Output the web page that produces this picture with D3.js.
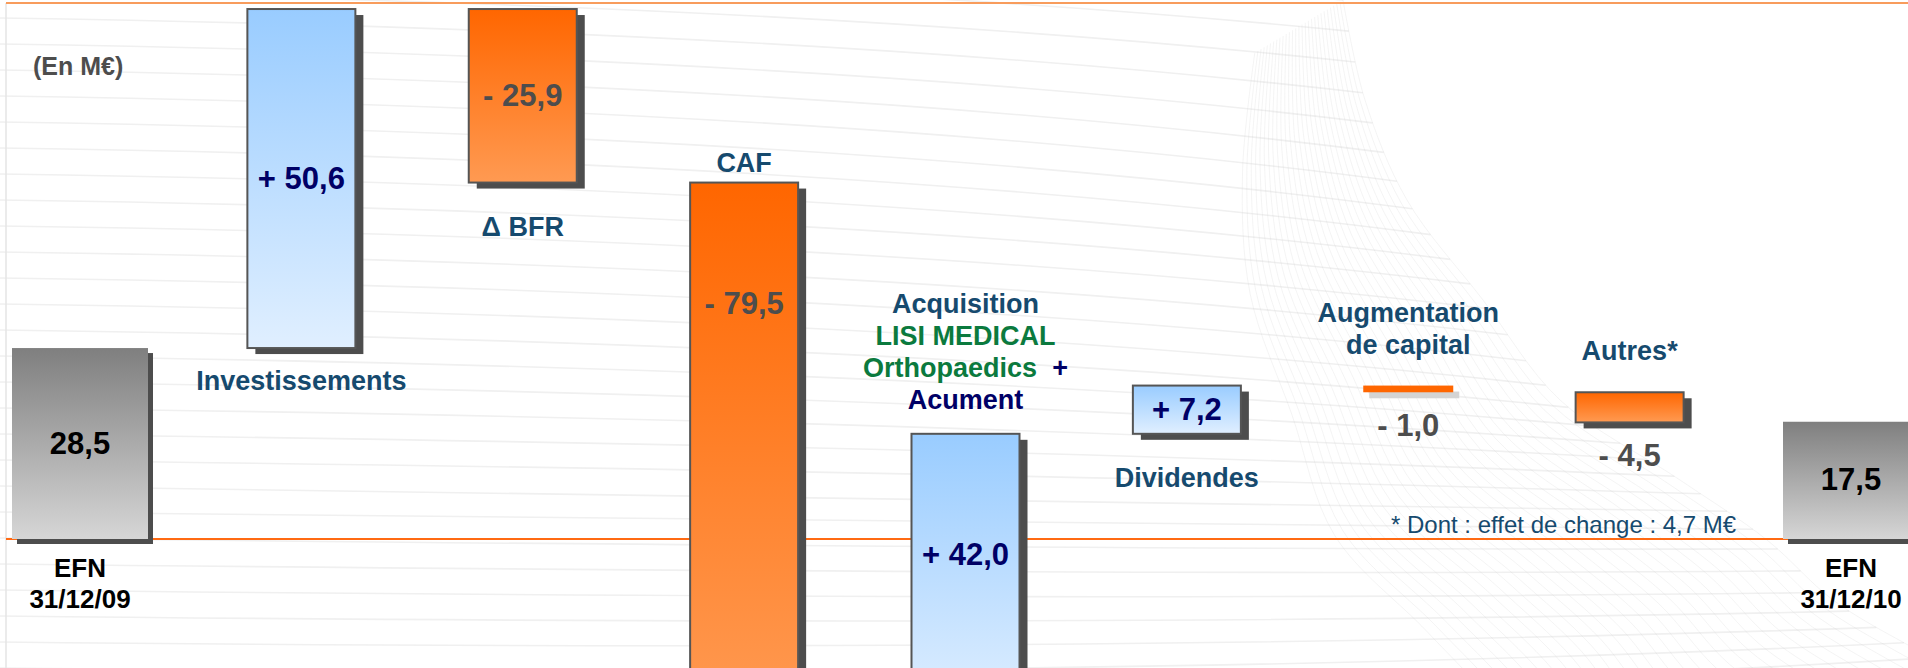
<!DOCTYPE html>
<html>
<head>
<meta charset="utf-8">
<script src="https://cdn.jsdelivr.net/npm/d3@7"></script>
<style>
  html, body { margin: 0; padding: 0; background: #fff; overflow: hidden; }
  svg { display: block; font-family: "Liberation Sans", Arial, sans-serif; }
  text { white-space: pre; }
</style>
</head>
<body>
<script>
// EFN bridge 2009 -> 2010, in M€
let categories = ["EFN 31/12/09", "Investissements", "Δ BFR", "CAF", "Acquisition", "Dividendes", "Augmentation de capital", "Autres*", "EFN 31/12/10"];
let kinds = ["total", "delta", "delta", "delta", "delta", "delta", "delta", "delta", "total"];
let values = [28.5, 50.6, -25.9, -79.5, 42.0, 7.2, -1.0, -4.5, 17.5];
let valueLabels = ["28,5", "+ 50,6", "- 25,9", "- 79,5", "+ 42,0", "+ 7,2", "- 1,0", "- 4,5", "17,5"];
let labelLines = [
  ["EFN", "31/12/09"],
  ["Investissements"],
  ["Δ BFR"],
  ["CAF"],
  ["Acquisition", "LISI MEDICAL", "Orthopaedics  +", "Acument"],
  ["Dividendes"],
  ["Augmentation", "de capital"],
  ["Autres*"],
  ["EFN", "31/12/10"]
];
let unitLabel = "(En M€)";
let footnote = "* Dont : effet de change : 4,7 M€";

let width = 1908, height = 668;

// running total -> start / end of every bar
let running = 0;
let bars = categories.map((c, i) => {
  let start, end;
  if (kinds[i] == "total") { start = 0; end = values[i]; running = values[i]; }
  else { start = running; end = running + values[i]; running = end; }
  return {cat: c, kind: kinds[i], value: values[i], start: start, end: end, label: valueLabels[i], lines: labelLines[i]};
});

let svg = d3.select("body")
  .append("svg")
  .attr("width", width)
  .attr("height", height);

let x = d3.scalePoint()
  .domain(categories)
  .range([80, 1851]);
let y = d3.scaleLinear()
  .domain([0, 80])
  .range([539, 3]);

// gradients
let defs = svg.append("defs");
function grad(id, top, bottom) {
  let g = defs.append("linearGradient").attr("id", id)
    .attr("x1", 0).attr("y1", 0).attr("x2", 0).attr("y2", 1);
  g.append("stop").attr("offset", "0%").attr("stop-color", top);
  g.append("stop").attr("offset", "100%").attr("stop-color", bottom);
}
grad("gGray", "#7f7f7f", "#d6d6d6");
grad("gBlue", "#99ccff", "#e0efff");
grad("gOrange", "#ff6600", "#ff9a52");

// background swoosh (decoration only)
let bg = svg.append("g");
let edge = [[1343, 0], [1365, 100], [1407, 200], [1483, 300], [1560, 400], [1680, 480], [1767, 540], [1833, 600], [1908, 645], [1960, 672]];
let edgeLine = d3.line().curve(d3.curveCatmullRom);
let edgePath = bg.append("path").attr("d", edgeLine(edge)).attr("fill", "none").attr("stroke", "none");
let len = edgePath.node().getTotalLength();
d3.range(0, 34).forEach(i => {
  let y0 = -60 + i * 26;
  let p = edgePath.node().getPointAtLength(len * Math.min(1, i / 30));
  bg.append("path")
    .attr("d", `M0,${y0} Q${p.x * 0.6},${y0 + 12} ${p.x},${p.y}`)
    .attr("fill", "none")
    .attr("stroke", "#f0f0f0")
    .attr("stroke-width", 1.6);
});
d3.range(0, 1, 0.035).forEach(s => {
  bg.append("path")
    .attr("d", edgeLine(edge.map(p => {
      let w = 90 + p[1] * 0.35;
      return [p[0] - s * w, p[1] + s * w * 0.6];
    })))
    .attr("fill", "none")
    .attr("stroke", "#cfcfcf")
    .attr("stroke-opacity", 0.22)
    .attr("stroke-width", 1);
});

// frame lines
svg.append("line")
  .attr("x1", 6).attr("x2", 6).attr("y1", 3).attr("y2", height)
  .attr("stroke", "#e4e4e4").attr("stroke-width", 1.5);
svg.append("line")
  .attr("x1", 6).attr("x2", width).attr("y1", 3).attr("y2", 3)
  .attr("stroke", "#f89c5c").attr("stroke-width", 2);
svg.append("line")
  .attr("x1", 6).attr("x2", width).attr("y1", y(0)).attr("y2", y(0))
  .attr("stroke", "#ff6a13").attr("stroke-width", 2);

// bar geometry helpers
let small = d => Math.abs(d.value) < 2;
let barW = d => d.kind == "total" ? 136 : (small(d) ? 90 : 108);
let barX = d => x(d.cat) - barW(d) / 2;
let barTop = d => y(Math.max(d.start, d.end));
let barH = d => Math.abs(y(d.start) - y(d.end));
let shadow = d => d.kind == "total" ? [5, 5] : (small(d) ? [6, 6] : [8, 6]);
let fill = d => d.kind == "total" ? "url(#gGray)" : (small(d) ? "#ff6600" : (d.value > 0 ? "url(#gBlue)" : "url(#gOrange)"));

let g = svg.append("g");
// shadows
g.selectAll("rect.shadow")
  .data(bars)
  .enter()
  .append("rect")
    .attr("class", "shadow")
    .attr("x", d => barX(d) + shadow(d)[0])
    .attr("y", d => barTop(d) + shadow(d)[1])
    .attr("width", d => barW(d))
    .attr("height", d => barH(d))
    .style("fill", d => small(d) ? "#d4d4d4" : "#4d4d4d");
// bars
g.selectAll("rect.bar")
  .data(bars)
  .enter()
  .append("rect")
    .attr("class", "bar")
    .attr("x", d => barX(d))
    .attr("y", d => barTop(d))
    .attr("width", d => barW(d))
    .attr("height", d => barH(d))
    .style("fill", d => fill(d))
    .style("stroke", d => (d.kind == "total" || small(d)) ? "none" : "#555555")
    .style("stroke-width", 2);

// value labels: inside the bar, or under it when the bar is thin
let below = d => Math.abs(d.value) < 5;
let offBottom = d => barTop(d) + barH(d) > height;
g.selectAll("text.value")
  .data(bars)
  .enter()
  .append("text")
    .attr("class", "value")
    .attr("x", d => x(d.cat))
    .attr("y", d => {
      if (below(d)) return barTop(d) + barH(d) + shadow(d)[1] + 38;
      if (offBottom(d)) return barTop(d) + 131;
      return barTop(d) + barH(d) / 2 + 10;
    })
    .attr("text-anchor", "middle")
    .style("font-size", "31px")
    .style("font-weight", "bold")
    .style("fill", d => d.kind == "total" ? "#000" : (d.value > 0 ? "#000066" : "#4d4d4d"))
    .text(d => d.label);

// category labels
let labelColor = "#164a6e", green = "#0b7a3e", navy = "#000066";
let firstLine = d => {
  let n = d.lines.length, lh = 32;
  if (d.kind == "total") return y(0) + 38;
  if (offBottom(d)) return d.value > 0 ? barTop(d) - 25 - (n - 1) * lh : barTop(d) - 11;
  if (below(d)) return barTop(d) - 32 - (n - 1) * lh;
  return barTop(d) + barH(d) + (d.value < 10 ? 53 : 42);
};
bars.forEach(d => {
  let y0 = firstLine(d);
  d.lines.forEach((line, j) => {
    let t = g.append("text")
      .attr("x", x(d.cat))
      .attr("y", y0 + j * (d.kind == "total" ? 31 : 32))
      .attr("text-anchor", "middle")
      .style("font-size", d.kind == "total" ? "26px" : "27px")
      .style("font-weight", "bold")
      .style("fill", d.kind == "total" ? "#000" : labelColor);
    if (line == "LISI MEDICAL") t.style("fill", green).text(line);
    else if (line == "Acument") t.style("fill", navy).text(line);
    else if (line.startsWith("Orthopaedics")) {
      t.append("tspan").style("fill", green).text("Orthopaedics");
      t.append("tspan").style("fill", navy).text("  +");
    }
    else t.text(line);
  });
});

// unit + footnote
svg.append("text")
  .attr("x", 33).attr("y", 75)
  .style("font-size", "25px").style("font-weight", "bold").style("fill", "#4d4d4d")
  .text(unitLabel);
svg.append("text")
  .attr("x", 1391).attr("y", 533)
  .style("font-size", "24px").style("fill", labelColor)
  .text(footnote);
</script>
</body>
</html>
